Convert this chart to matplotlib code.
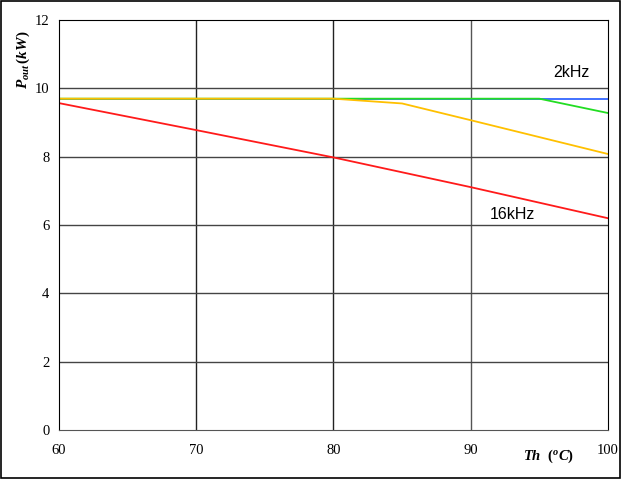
import matplotlib
matplotlib.use("Agg")
import matplotlib.pyplot as plt
from matplotlib.patches import Rectangle

plt.rcParams['font.family'] = ['Liberation Serif', 'DejaVu Serif']
plt.rcParams['mathtext.fontset'] = 'custom'
plt.rcParams['mathtext.it'] = 'Liberation Serif:italic:bold'
plt.rcParams['mathtext.rm'] = 'Liberation Serif:bold'
plt.rcParams['mathtext.bf'] = 'Liberation Serif:bold'

# Data
x_2k = [60, 100]
y_2k = [9.7, 9.7]
x_4k = [60, 95, 100]
y_4k = [9.7, 9.7, 9.28]
x_8k = [60, 80, 85, 90, 100]
y_8k = [9.7, 9.7, 9.56, 9.07, 8.08]
x_16k = [60, 70, 80, 90, 100]
y_16k = [9.57, 8.78, 7.98, 7.11, 6.2]

xticks = [60, 70, 80, 90, 100]
yticks = [0, 2, 4, 6, 8, 10, 12]

fig = plt.figure(figsize=(6.21, 4.79), dpi=100)
ax = fig.add_axes([0.095, 0.1023, 0.884, 0.8557])

ax.plot(x_2k, y_2k, color='#3366ff', lw=1.3)
ax.plot(x_4k, y_4k, color='#22dd22', lw=1.3)
ax.plot(x_8k, y_8k, color='#ffc000', lw=1.3)
ax.plot(x_16k, y_16k, color='#ff1a1a', lw=1.3)

ax.set_xlim(60, 100)
ax.set_ylim(0, 12)
ax.set_xticks(xticks)
ax.set_yticks(yticks)
ax.tick_params(length=0, labelsize=10.5, pad=7)
ax.tick_params(axis='x', pad=10)
for v in [70, 80]:
    ax.axvline(v, color='#222222', lw=1.0, zorder=0)
ax.axvline(90, color='#555555', lw=1.0, zorder=0)
for v in [2, 4, 6, 8, 10]:
    ax.axhline(v, color='#444444', lw=1.0, zorder=0)
for s in ['top', 'left', 'right']:
    ax.spines[s].set_color('black')
ax.spines['bottom'].set_color('#555555')

ax.text(96.0, 10.48, '2kHz', family='Liberation Sans', fontsize=11.5, va='center')
ax.text(91.4, 6.32, '16kHz', family='Liberation Sans', fontsize=11.5, va='center')

fig.text(0.038, 0.875, r'$P_{out}\,(kW)$', rotation=90, ha='center', va='center', fontsize=11)
fig.text(0.883, 0.047, r'$Th\ \ (^{o}C)$', ha='center', va='center', fontsize=10.5)

fig.patches.append(Rectangle((0.0015, 0.002), 0.997, 0.996, transform=fig.transFigure,
                             fill=False, edgecolor='black', lw=1.2))

fig.savefig('out.png', dpi=100)
